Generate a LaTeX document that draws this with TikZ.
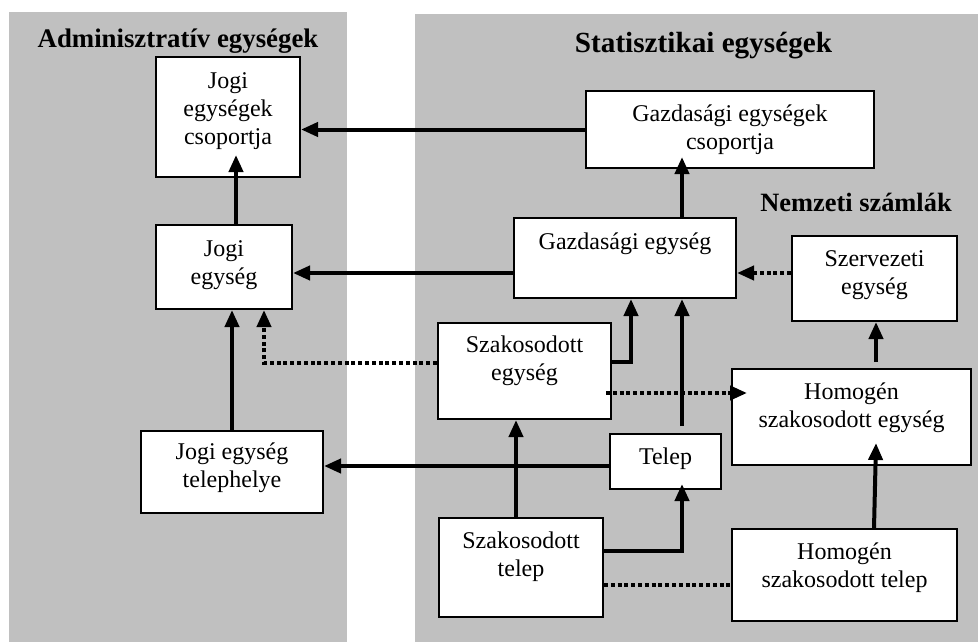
\documentclass[tikz,border=0pt]{standalone}
\usepackage{fontspec}
\setmainfont{Liberation Serif}
\usepackage{tikz}
\usetikzlibrary{arrows.meta,calc,positioning}
\definecolor{panelgray}{RGB}{192,192,192}

\begin{document}
\begin{tikzpicture}[
    x=0.5pt, y=-0.5pt,
    panel/.style={fill=panelgray, draw=none},
    heading/.style={anchor=base, inner sep=0, font=\fontsize{#1}{16}\selectfont\bfseries},
    unitbox/.style={rectangle, draw, line width=1pt, fill=white, inner sep=0},
    unittext/.style={align=center, inner sep=0, font=\fontsize{12}{14}\selectfont},
    link/.style={line width=2pt, -{Triangle[length=8.5pt, width=7pt]}},
    dotline/.style={line width=2pt, dash pattern=on 2pt off 1.4pt},
    dotlink/.style={link, dotline}]
\useasboundingbox (0,0) rectangle (978,642);

% panels
\path[panel] (9,12) rectangle (347,642);
\path[panel] (415,14) rectangle (978,642);

\node[heading=13.4] (admin) at (178,48) {Adminisztratív egységek};
\node[heading=14.6] (stat) at (703.5,53) {Statisztikai egységek};
\node[heading=13.2] (nsz) at (856,211) {Nemzeti számlák};

% boxes
\node[unitbox, minimum width=72pt, minimum height=60pt] (jecs) at (228,117) {};
\node[unitbox, minimum width=68pt, minimum height=42pt] (je) at (224,267) {};
\node[unitbox, minimum width=91pt, minimum height=41pt] (jet) at (232,472) {};
\node[unitbox, minimum width=144pt, minimum height=38.5pt] (gecs) at (730,129.5) {};
\node[unitbox, minimum width=111pt, minimum height=40pt] (ge) at (625,258) {};
\node[unitbox, minimum width=82.5pt, minimum height=42.5pt] (sze) at (874.5,278.5) {};
\node[unitbox, minimum width=86.5pt, minimum height=48pt] (szake) at (524.5,371) {};
\node[unitbox, minimum width=55.5pt, minimum height=27.5pt] (telep) at (665.5,461.5) {};
\node[unitbox, minimum width=119.5pt, minimum height=48pt] (hsze) at (851.5,417) {};
\node[unitbox, minimum width=82pt, minimum height=49.5pt] (szt) at (521,567.5) {};
\node[unitbox, minimum width=112.5pt, minimum height=46pt] (hszt) at (844.5,575) {};

% box texts
\node[unittext] (jecs-t) at (228,111) {Jogi\\egységek\\csoportja};
\node[unittext] (je-t) at (224,265) {Jogi\\egység};
\node[unittext] (jet-t) at (232,468) {Jogi egység\\telephelye};
\node[unittext] (gecs-t) at (730,130) {Gazdasági egységek\\csoportja};
\node[unittext] (ge-t) at (625,244) {Gazdasági egység};
\node[unittext] (sze-t) at (874.5,275) {Szervezeti\\egység};
\node[unittext] (szake-t) at (524.5,361) {Szakosodott\\egység};
\node[unittext] (telep-t) at (665.5,459) {Telep};
\node[unittext] (hsze-t) at (851.5,408) {Homogén\\szakosodott egység};
\node[unittext] (szt-t) at (521,557) {Szakosodott\\telep};
\node[unittext] (hszt-t) at (844.5,568) {Homogén\\szakosodott telep};

% dotted links
\draw[dotlink] ($(sze.west)+(0,-5.5)$) coordinate (p1) -- (p1 -| ge.east);
\draw[dotlink] ($(szake.east)+(-6,22)$) coordinate (p2) -- ($(p2 -| hsze.west)+(16,0)$);
\draw[dotlink] ($(szake.west)+(0,-8)$) -| ($(je.south)+(40,0)$);
\draw[dotline] ($(szt.east)+(0,17.5)$) coordinate (p3) -- (p3 -| hszt.west);

% solid links
\draw[link] (gecs.west) -- (gecs.west -| jecs.east);
\draw[link] ($(ge.west)+(0,15)$) coordinate (p4) -- (p4 -| je.east);
\draw[link] ($(je.north)+(12,0)$) coordinate (p5) -- ($(p5 |- jecs.south)+(0,-23)$);
\draw[link] ($(ge.north)+(57,0)$) coordinate (p6) -- ($(p6 |- gecs.south)+(0,-12)$);
\draw[link] ($(hsze.north)+(24.5,-6)$) coordinate (p7) -- (p7 |- sze.south);
\draw[link] ($(szake.east)+(0,-9)$) -| ($(ge.south)+(6,0)$);
\draw[link] ($(telep.north)+(16.5,-7)$) coordinate (p8) -- (p8 |- ge.south);
\draw[link] (jet.north) -- (jet.north |- je.south);
\draw[link] ($(telep.west)+(0,4.5)$) coordinate (p9) -- (p9 -| jet.east);
\draw[link] ($(szt.north)+(-5,0)$) coordinate (p10) -- (p10 |- szake.south);
\draw[link] ($(szt.east)+(0,-16.5)$) -| ($(telep.south)+(16.5,-6)$);
\draw[link] ($(hszt.north)+(29.5,0)$) -- ($(hsze.south)+(24.5,-23)$);

\end{tikzpicture}
\end{document}
